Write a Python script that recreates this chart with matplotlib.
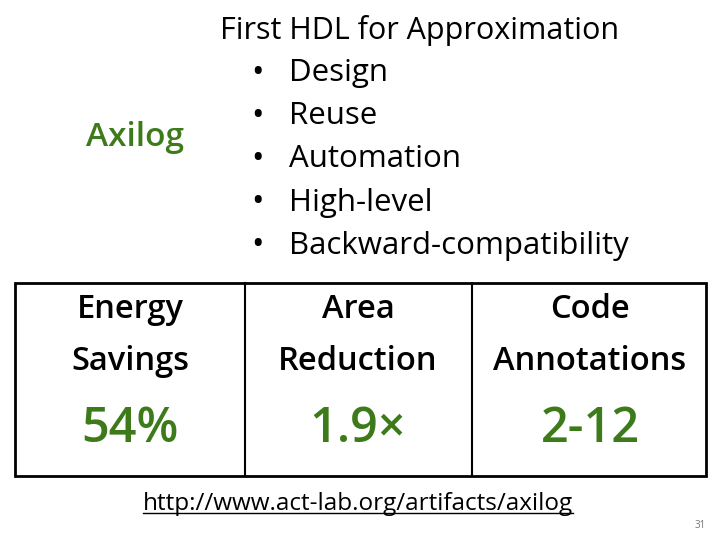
import matplotlib.pyplot as plt
from matplotlib.patches import Rectangle
from matplotlib.lines import Line2D

plt.rcParams['font.family'] = ['Open Sans', 'DejaVu Sans']

green = '#3d7a1a'
title = 'First HDL for Approximation'
features = ['Design', 'Reuse', 'Automation', 'High-level', 'Backward-compatibility']
headers = [['Energy', 'Savings'], ['Area', 'Reduction'], ['Code', 'Annotations']]
values = ['54%', '1.9×', '2-12']
url = 'http://www.act-lab.org/artifacts/axilog'

W, H = 720, 540
fig = plt.figure(figsize=(7.2, 5.4), dpi=100)
fig.patch.set_facecolor('white')


def txt(x, y, s, **kw):
    return fig.text(x / W, 1 - y / H, s, va='center', **kw)


txt(420, 30, title, ha='center', fontsize=22)
for i, f in enumerate(features):
    y = 73 + i * 43.2
    txt(258, y, '•', ha='center', fontsize=24)
    txt(289, y, f, ha='left', fontsize=22.5)
txt(135, 137, 'Axilog', ha='center', fontsize=24, color=green, weight='semibold')

# table box
fig.add_artist(Rectangle((15 / W, 1 - 476 / H), 691 / W, 193 / H,
                         transform=fig.transFigure, fill=False, lw=2, ec='black'))
for xd in [245, 472]:
    fig.add_artist(Line2D([xd / W, xd / W], [1 - 476 / H, 1 - 283 / H],
                          transform=fig.transFigure, color='black', lw=1.5))

cols = [130, 358, 590]
for x, hd, v in zip(cols, headers, values):
    txt(x, 309, hd[0], ha='center', fontsize=23.5, weight='semibold')
    txt(x, 361, hd[1], ha='center', fontsize=23.5, weight='semibold')
    txt(x, 430, v, ha='center', fontsize=35, color=green, weight='semibold')

t = txt(358, 504, url, ha='center', fontsize=17.5)
fig.canvas.draw()
bb = t.get_window_extent()
fig.add_artist(Line2D([bb.x0 / W, bb.x1 / W], [(bb.y0 + 3) / H] * 2,
                      transform=fig.transFigure, color='black', lw=1))
txt(706, 526, '31', ha='right', fontsize=7, color='#777777')

fig.savefig('out.png', dpi=100)
